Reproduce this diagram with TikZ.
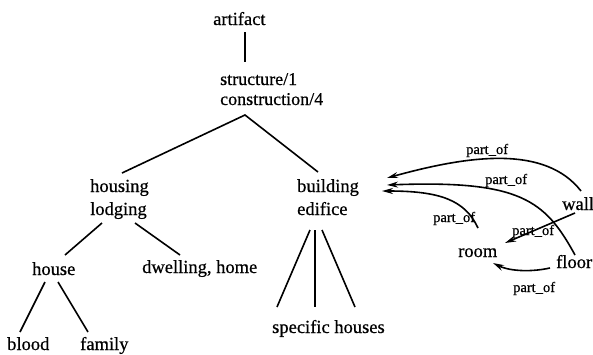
\documentclass[tikz,border=0pt]{standalone}
\usepackage{fontspec}
\setmainfont{Liberation Serif}[FakeBold=0.6]
\usetikzlibrary{arrows.meta}
\begin{document}
\begin{tikzpicture}[x=1pt,y=-1pt,
  word/.style={inner sep=0pt,anchor=base west,font=\fontsize{18.5}{22}\selectfont},
  lbl/.style={inner sep=0pt,anchor=base west,font=\fontsize{14.5}{16}\selectfont},
  edge/.style={line width=1.6pt},
  rel/.style={line width=1.6pt,-{Stealth[length=11pt,width=6pt]}}]
\useasboundingbox (0,0) rectangle (593,354);
% tree nodes
\node[word] (artifact) at (213,25) {artifact};
\node[word,font=\fontsize{18}{20}\selectfont] (structure) at (220,85) {structure/1};
\node[word,font=\fontsize{18}{20}\selectfont] (construction) at (220,105) {construction/4};
\node[word] (housing) at (90,192) {housing};
\node[word] (lodging) at (90,215) {lodging};
\node[word] (building) at (297,192) {building};
\node[word] (edifice) at (297,215) {edifice};
\node[word] (house) at (32,275) {house};
\node[word] (dwelling) at (142,273) {dwelling, home};
\node[word] (blood) at (7,350) {blood};
\node[word] (family) at (80,350) {family};
\node[word] (specific) at (272,333) {specific houses};
\node[word] (wall) at (562,210) {wall};
\node[word] (room) at (458,257) {room};
\node[word] (floor) at (556,268) {floor};
% endpoints of tree edges
\coordinate (artB) at (245,32);
\coordinate (strT) at (245,62);
\coordinate (conB) at (245,115);
\coordinate (houT) at (122,173);
\coordinate (bldT) at (318,172);
\coordinate (lodL) at (102,223);
\coordinate (lodR) at (135,223);
\coordinate (hseT) at (65,255);
\coordinate (dwlT) at (180,255);
\coordinate (hseL) at (45,282);
\coordinate (hseR) at (58,282);
\coordinate (bloT) at (20,332);
\coordinate (famT) at (88,332);
\coordinate (ediL) at (310,230);
\coordinate (ediM) at (315,230);
\coordinate (ediR) at (322,230);
\coordinate (spL) at (277,307);
\coordinate (spM) at (315,307);
\coordinate (spR) at (355,307);
\draw[edge] (artB) -- (strT);
\draw[edge] (houT) -- (conB) -- (bldT);
\draw[edge] (lodL) -- (hseT);
\draw[edge] (lodR) -- (dwlT);
\draw[edge] (hseL) -- (bloT);
\draw[edge] (hseR) -- (famT);
\draw[edge] (ediL) -- (spL);
\draw[edge] (ediM) -- (spM);
\draw[edge] (ediR) -- (spR);
% part_of relations
\coordinate (wallA) at (581,191);
\coordinate (wallB) at (575,213);
\coordinate (floorA) at (575,255);
\coordinate (floorB) at (550,268);
\coordinate (roomT) at (478,228);
\coordinate (roomR) at (505,243);
\coordinate (roomE) at (493,263);
\coordinate (bld1) at (387,178);
\coordinate (bld2) at (387,185);
\coordinate (bld3) at (382,191);
\draw[rel] (wallA) .. controls (545,145) and (470,155) .. (bld1);
\draw[rel] (floorA) .. controls (545,200) and (520,180) .. (bld2);
\draw[rel] (roomT) .. controls (465,200) and (440,191) .. (bld3);
\draw[rel] (wallB) -- (roomR);
\draw[rel] (floorB) .. controls (527,273) and (507,270) .. (roomE);
\node[lbl] (l1) at (466,154) {part\_of};
\node[lbl] (l2) at (485,184) {part\_of};
\node[lbl] (l3) at (433,222) {part\_of};
\node[lbl] (l4) at (512,235) {part\_of};
\node[lbl] (l5) at (513,292) {part\_of};
\end{tikzpicture}
\end{document}
